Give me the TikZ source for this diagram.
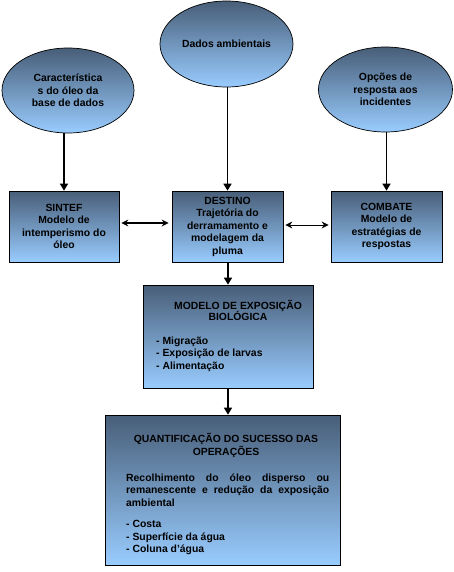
\documentclass[tikz,border=0pt]{standalone}
\usepackage{fontspec}
\setmainfont{Liberation Sans}
\usetikzlibrary{shapes.geometric,arrows.meta}
\definecolor{topc}{RGB}{72,94,120}
\definecolor{botc}{RGB}{153,204,255}
\begin{document}
\begin{tikzpicture}[x=1pt,y=-1pt,
  grad/.style={top color=topc, bottom color=botc, draw=black, line width=0.7pt},
  ell/.style={grad, ellipse, inner sep=0pt},
  box/.style={grad, rectangle, inner sep=0pt},
  txt/.style={font=\bfseries\fontsize{10.4}{12.5}\selectfont, align=center, inner sep=0pt},
  arr/.style={line width=1.6pt, -{Triangle[width=8pt,length=7pt]}},
  dbl/.style={{Stealth[width=7pt,length=7pt]}-{Stealth[width=7pt,length=7pt]}},
]
\useasboundingbox (0,0) rectangle (453,572);
% ellipses
\node[ell, txt, minimum width=132pt, minimum height=85pt] (e1) at (68,90.5) {Característica\\s do óleo da\\base de dados};
\node[ell, txt, minimum width=133pt, minimum height=86pt] (e2) at (226.5,44) {Dados ambientais};
\node[ell, txt, minimum width=134pt, minimum height=85pt] (e3) at (385.5,89.5) {Opções de\\resposta aos\\incidentes};
% row boxes
\node[box, txt, minimum width=110pt, minimum height=71pt] (sintef) at (64,226.5) {SINTEF\\Modelo de\\intemperismo do\\óleo};
\node[box, txt, minimum width=111pt, minimum height=71pt] (destino) at (227.5,226.5) {DESTINO\\Trajetória do\\derramamento e\\modelagem da\\pluma};
\node[box, txt, minimum width=111pt, minimum height=71pt] (combate) at (386.5,226.5) {COMBATE\\Modelo de\\estratégias de\\respostas};
% modelo box
\node[box, minimum width=170pt, minimum height=103pt] (modelo) at (228,336.5) {};
\node[txt, font=\bfseries\fontsize{10.4}{11.5}\selectfont] (modt) at (238,310.5) {MODELO DE EXPOSIÇÃO\\BIOLÓGICA};
\node[txt, align=left, anchor=west] (modi) at (156,354) {- Migração\\- Exposição de larvas\\- Alimentação};
% quant box
\node[box, minimum width=235pt, minimum height=150pt] (quant) at (222.5,490) {};
\node[txt, font=\bfseries\fontsize{10.4}{13}\selectfont] (qt) at (226,445.5) {QUANTIFICAÇÃO DO SUCESSO DAS\\OPERAÇÕES};
\node[txt, align=justify, anchor=west, text width=203pt] (qp) at (126,490) {Recolhimento do óleo disperso ou\linebreak remanescente e redução da exposição\linebreak ambiental};
\node[txt, align=left, anchor=west] (qi) at (126,537.5) {- Costa\\- Superfície da água\\- Coluna d'água};
% connectors
\draw[arr] (e1.south -| sintef.north) -- (sintef.north);
\draw[arr] (e2.south -| destino.north) -- (destino.north);
\draw[arr] (e3.south -| combate.north) -- (combate.north);
\draw[dbl, line width=1.6pt] ([xshift=2pt,yshift=3.5pt]sintef.east) -- ([xshift=-3pt,yshift=3.5pt]destino.west);
\draw[dbl, line width=0.9pt] ([xshift=2pt,yshift=1.5pt]destino.east) -- ([xshift=-2pt,yshift=1.5pt]combate.west);
\draw[arr] (destino.south -| modelo.north) -- (modelo.north);
\draw[arr] (modelo.south) -- (modelo.south |- quant.north);
\end{tikzpicture}
\end{document}
